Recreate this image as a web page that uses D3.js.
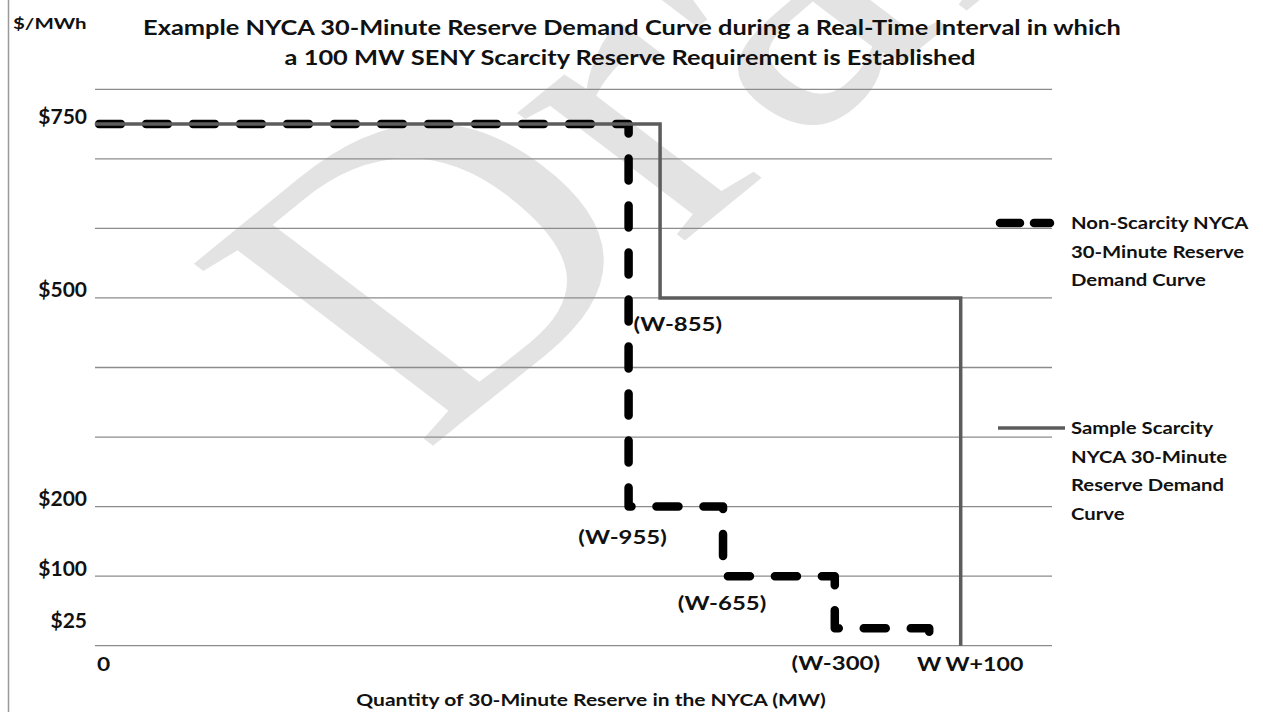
<!DOCTYPE html>
<html>
<head>
<meta charset="utf-8">
<script src="https://cdn.jsdelivr.net/npm/d3@7"></script>
<style>
  html, body { margin: 0; padding: 0; background: #fff; }
  svg { display: block; }
  text { font-family: Lato, "Open Sans", sans-serif; font-weight: bold; fill: #111; }
</style>
</head>
<body>
<svg id="chart" width="1263" height="712"></svg>
<script>
// ---- data ----
const W = 2650;                                   // schematic MW value of "W"
const titleLines = [
  "Example NYCA 30-Minute Reserve Demand Curve during a Real-Time Interval in which",
  "a 100 MW SENY Scarcity Reserve Requirement is Established"
];
const yUnit = "$/MWh";
const xTitle = "Quantity of 30-Minute Reserve in the NYCA (MW)";
const priceTicks = [750, 500, 200, 100, 25];
const priceTickLabels = ["$750", "$500", "$200", "$100", "$25"];
const gridValues = [0, 100, 200, 300, 400, 500, 600, 700, 800];

// Non-scarcity curve: step starts (MW offset from W) and prices
const nonScarcityOffsets = [-W, -955, -655, -300, 0];
const nonScarcityPrices  = [750, 200, 100, 25, 0];
// Sample scarcity curve
const scarcityOffsets = [-W, -855, 100];
const scarcityPrices  = [750, 500, 0];

const seriesNames = [
  ["Non-Scarcity NYCA", "30-Minute Reserve", "Demand Curve"],
  ["Sample Scarcity", "NYCA 30-Minute", "Reserve Demand", "Curve"]
];
const pointLabels = ["(W-855)", "(W-955)", "(W-655)", "(W-300)"];
const pointLabelOffsets = [-955, -955, -655, -300];
const pointLabelPrices = [500, 200, 100, 0];
const watermark = "Draft";

// ---- layout ----
const svg = d3.select("#chart");
const x = d3.scaleLinear().domain([0, 3040]).range([95, 1052]);
const y = d3.scaleLinear().domain([0, 800]).range([645.7, 89.3]);

// helper: horizontally stretched text
function stext(parent, tx, ty, str, size, sx, anchor) {
  return parent.append("text")
    .attr("transform", `translate(${tx},${ty}) scale(${sx},1)`)
    .attr("text-anchor", anchor || "start")
    .style("font-size", size + "px")
    .text(str);
}

// watermark
svg.append("g").attr("transform", "scale(1.27,1) translate(333,454)")
  .append("text")
  .attr("transform", "rotate(-46)")
  .style("font-family", "'Liberation Serif', 'DejaVu Serif', serif")
  .style("font-weight", "normal")
  .style("font-size", "400px")
  .style("fill", "#e3e3e3")
  .text(watermark);

// left border
svg.append("line").attr("x1", 8.5).attr("x2", 8.5).attr("y1", 0).attr("y2", 712)
  .attr("stroke", "#9a9a9a").attr("stroke-width", 1.5);

// gridlines
svg.append("g").selectAll("line").data(gridValues).join("line")
  .attr("x1", x.range()[0]).attr("x2", x.range()[1])
  .attr("y1", d => y(d)).attr("y2", d => y(d))
  .attr("stroke", "#8c8c8c").attr("stroke-width", 1.3);

// y tick labels
svg.append("g").selectAll("text").data(priceTicks).join("text")
  .attr("x", 87).attr("y", d => y(d) - 9)
  .attr("text-anchor", "end").attr("dominant-baseline", "central")
  .style("font-size", "21px")
  .text((d, i) => priceTickLabels[i]);

stext(svg, 13, 29, yUnit, 16, 1.28, "start");

// title
titleLines.forEach((t, i) => stext(svg, i === 0 ? 632 : 630, 35 + i * 30, t, 21, 1.21, "middle"));

// curves
const line = d3.line().curve(d3.curveStepAfter).x(d => x(d.q)).y(d => y(d.p));
const nonScarcity = nonScarcityOffsets.map((o, i) => ({ q: W + o, p: nonScarcityPrices[i] }));
const scarcity = scarcityOffsets.map((o, i) => ({ q: W + o, p: scarcityPrices[i] }));

svg.append("path").datum(nonScarcity).attr("d", line)
  .attr("fill", "none").attr("stroke", "#000").attr("stroke-width", 8.5)
  .attr("stroke-linecap", "round").attr("stroke-linejoin", "round")
  .attr("stroke-dasharray", "22,25").attr("stroke-dashoffset", -4);

svg.append("path").datum(scarcity).attr("d", line)
  .attr("fill", "none").attr("stroke", "#5c5c5c").attr("stroke-width", 3.5);

// x axis labels
stext(svg, x(0) + 2, 671, "0", 19, 1.2, "start");
stext(svg, x(W), 671, "W", 19, 1.22, "middle");
stext(svg, x(W) + 16, 671, "W+100", 19, 1.22, "start");

// point labels
const lblPos = [
  { anchor: "start",  dx: 5,  dy: 33 },
  { anchor: "middle", dx: -6, dy: 37 },
  { anchor: "middle", dx: -1, dy: 34 },
  { anchor: "middle", dx: 1,  dy: 24 }
];
pointLabels.forEach((t, i) => {
  stext(svg, x(W + pointLabelOffsets[i]) + lblPos[i].dx,
        y(pointLabelPrices[i]) + lblPos[i].dy, t, 19, 1.26, lblPos[i].anchor);
});

// x axis title
stext(svg, 591, 706, xTitle, 17.5, 1.2, "middle");

// legend
const legendY = [223, 428];
const lg = svg.append("g");
lg.append("path").attr("d", `M1000,${legendY[0]}H1050`)
  .attr("stroke", "#000").attr("stroke-width", 8.5).attr("stroke-linecap", "round")
  .attr("stroke-dasharray", "20,14");
lg.append("path").attr("d", `M998,${legendY[1]}H1065`)
  .attr("stroke", "#5c5c5c").attr("stroke-width", 3.5);
seriesNames.forEach((lines, s) => {
  lines.forEach((t, i) => stext(lg, 1071, legendY[s] + i * 28.5 + 6, t, 17.5, 1.16, "start"));
});
</script>
</body>
</html>
